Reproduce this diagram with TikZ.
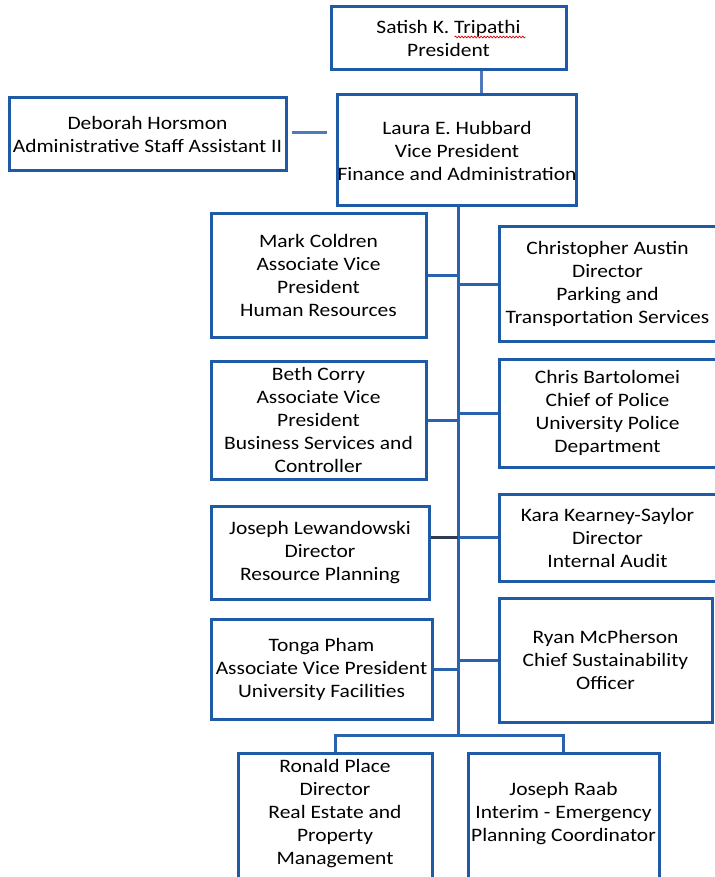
\documentclass[tikz,border=0pt]{standalone}
\usepackage{fontspec}
\setmainfont[FakeStretch=1.13]{Carlito}
\usetikzlibrary{decorations.pathmorphing}
\definecolor{boxblue}{HTML}{1F5AA6}
\definecolor{linkblue}{HTML}{2A62AE}
\definecolor{softblue}{HTML}{5079BA}
\definecolor{darkline}{HTML}{2E3B52}
\begin{document}
\begin{tikzpicture}[x=1pt,y=-1pt,
  orgbox/.style={draw=boxblue,line width=3pt,fill=white,rectangle,inner sep=0pt,
    align=center,font=\fontsize{19}{23}\selectfont},
  txt/.style={inner sep=0pt,align=center,font=\fontsize{19}{23}\selectfont},
  link/.style={draw=linkblue,line width=3pt},
  softlink/.style={draw=softblue,line width=3pt},
  darklink/.style={draw=darkline,line width=3pt}]
\useasboundingbox (0,0) rectangle (714,877);
\fill[white] (0,0) rectangle (714,877);
% nodes
\node[orgbox,minimum width=235pt,minimum height=63pt] (sat) at (448.5,38.5) {Satish K. Tripathi\\President};
\node[orgbox,minimum width=238pt,minimum height=111pt] (lau) at (457,150.5) {Laura E. Hubbard\\Vice President\\Finance and Administration};
\node[orgbox,minimum width=277pt,minimum height=73pt] (deb) at (147.5,134.5) {Deborah Horsmon\\Administrative Staff Assistant II};
\node[orgbox,minimum width=215pt,minimum height=123pt] (mark) at (318.5,275.5) {Mark Coldren\\Associate Vice\\President\\Human Resources};
\node[orgbox,minimum width=217pt,minimum height=114pt] (chr) at (607.5,284) {Christopher Austin\\Director\\Parking and\\Transportation Services};
\node[orgbox,minimum width=215pt,minimum height=118pt] (beth) at (318.5,420) {Beth Corry\\Associate Vice\\President\\Business Services and\\Controller};
\node[orgbox,minimum width=217pt,minimum height=108pt] (chb) at (607.5,413) {Chris Bartolomei\\Chief of Police\\University Police\\Department};
\node[orgbox,minimum width=218pt,minimum height=93pt] (jl) at (320,552.5) {Joseph Lewandowski\\Director\\Resource Planning};
\node[orgbox,minimum width=217pt,minimum height=87pt] (kara) at (607.5,537.5) {Kara Kearney-Saylor\\Director\\Internal Audit};
\node[orgbox,minimum width=221pt,minimum height=100pt] (tonga) at (321.5,669) {Tonga Pham\\Associate Vice President\\University Facilities};
\node[orgbox,minimum width=213pt,minimum height=124pt] (ryan) at (605.5,660) {Ryan McPherson\\Chief Sustainability\\Officer};
\node[orgbox,minimum width=194pt,minimum height=150pt] (ron) at (335,828) {};
\node[txt] (ront) at (335,813.5) {Ronald Place\\Director\\Real Estate and\\Property\\Management};
\node[orgbox,minimum width=191pt,minimum height=150pt] (raab) at (563.5,828) {};
\node[txt] (raabt) at (563.5,813.5) {Joseph Raab\\Interim - Emergency\\Planning Coordinator};
\coordinate (bot) at (458,735);
% spell-check squiggle
\draw[red!85!black,line width=0.7pt,decorate,decoration={snake,segment length=3.2pt,amplitude=0.9pt}]
  ([xshift=6pt,yshift=1.5pt]sat.center) -- ([xshift=77pt,yshift=1.5pt]sat.center);
% connectors
\draw[softlink] ([xshift=32.5pt]sat.south) -- ([xshift=24pt]lau.north);
\draw[softlink,shorten <=4pt,shorten >=9pt] ([yshift=1.5pt]deb.east) -- ([yshift=1.5pt]deb.east -| lau.west);
\draw[link] ([xshift=1pt]lau.south) -- (bot);
\draw[link] (mark.east) -- (mark.east -| bot);
\draw[link] (chr.west) -- (chr.west -| bot);
\draw[link] (beth.east) -- (beth.east -| bot);
\draw[link] (chb.west) -- (chb.west -| bot);
\draw[darklink] (jl.east |- kara.west) -- (kara.west -| bot);
\draw[link] (kara.west) -- (kara.west -| bot);
\draw[link] (tonga.east) -- (tonga.east -| bot);
\draw[link] (ryan.west) -- (ryan.west -| bot);
\draw[link] (ron.north) |- (bot) -| (raab.north);
\end{tikzpicture}
\end{document}
